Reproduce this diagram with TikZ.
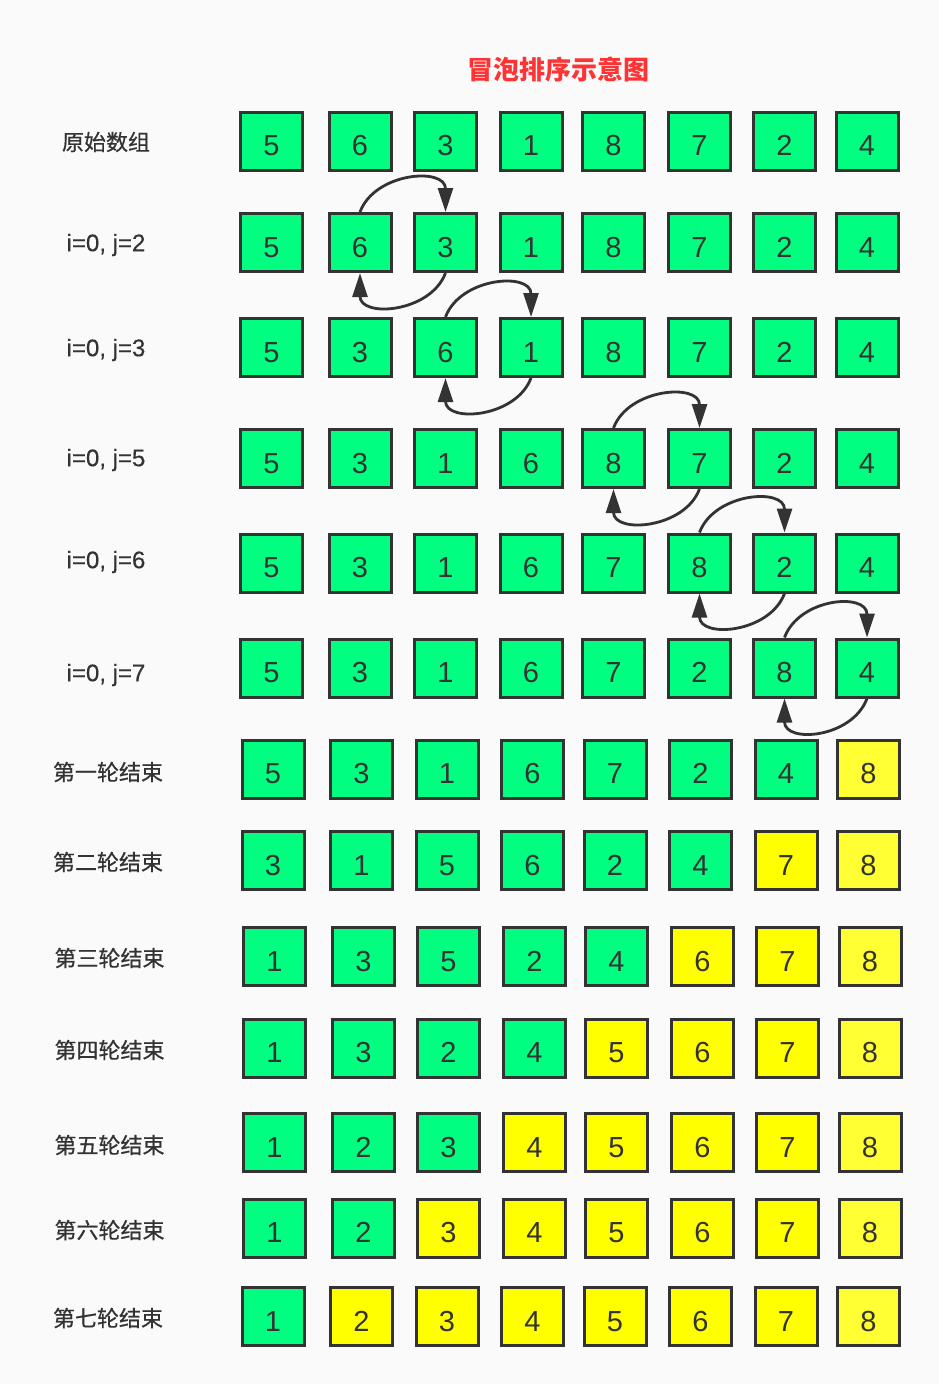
\documentclass[tikz,border=0pt]{standalone}
\usepackage{fontspec}
\setmainfont{Liberation Sans}
\newfontfamily\cjk{Noto Sans CJK SC}
\newfontfamily\cjkm[FakeBold=0.6]{Noto Sans CJK SC}
\newfontfamily\latm[FakeBold=0.4]{Liberation Sans}
\usetikzlibrary{arrows.meta,calc}
\definecolor{bg}{HTML}{FAFAFA}
\definecolor{ink}{HTML}{333333}
\definecolor{gbox}{HTML}{00FF80}
\definecolor{ybox}{HTML}{FFFF00}
\definecolor{ylt}{HTML}{FFFF33}
\definecolor{ttl}{HTML}{FF3333}
\def\xa{{271.5,360,445.5,531,613.5,699.5,784.5,867}}
\def\xb{{273,361.5,447,532.5,615,700.5,786,868.5}}
\def\xc{{274.5,363.5,448.5,534.5,616.5,702.5,787.5,870}}
\begin{document}
\begin{tikzpicture}[x=1pt,y=-1pt,
  cell/.style={draw=ink,line width=3pt,minimum width=62pt,minimum height=58pt,
    inner sep=0pt,text=ink,font=\fontsize{29}{34}\selectfont,text height=29pt,text depth=0pt},
  lbl/.style={text=ink,font=\latm\fontsize{24}{28}\selectfont,inner sep=0pt},
  clbl/.style={text=ink,font=\cjkm\fontsize{22}{26}\selectfont,inner sep=0pt},
  swaparrow/.style={draw=ink,line width=2.8pt,-{Triangle[width=15pt,length=24pt]}}]
\fill[bg] (0,0) rectangle (939,1384);
\useasboundingbox (0,0) rectangle (939,1384);

\node[text=ttl,font=\cjk\bfseries\fontsize{26}{30}\selectfont,inner sep=0pt] (title) at (558,70) {冒泡排序示意图};

\foreach \r/\y/\xs/\vals/\ny in {
  1/141/\xa/{5,6,3,1,8,7,2,4}/0,
  2/242.5/\xa/{5,6,3,1,8,7,2,4}/0,
  3/347.5/\xa/{5,3,6,1,8,7,2,4}/0,
  4/458.5/\xa/{5,3,1,6,8,7,2,4}/0,
  5/563/\xa/{5,3,1,6,7,8,2,4}/0,
  6/668/\xa/{5,3,1,6,7,2,8,4}/0,
  7/769/\xb/{5,3,1,6,7,2,4,8}/1,
  8/860.5/\xb/{3,1,5,6,2,4,7,8}/2,
  9/956.5/\xc/{1,3,5,2,4,6,7,8}/3,
  10/1048/\xc/{1,3,2,4,5,6,7,8}/4,
  11/1142.5/\xc/{1,2,3,4,5,6,7,8}/5,
  12/1228/\xc/{1,2,3,4,5,6,7,8}/6,
  13/1316.5/\xb/{1,2,3,4,5,6,7,8}/7}{
  \foreach \d [count=\c] in \vals {
    \pgfmathsetmacro\xx{\xs[\c-1]}
    \def\fc{gbox}
    \ifnum\c>\numexpr8-\ny\relax
      \ifnum\c=8 \def\fc{ylt}\else\def\fc{ybox}\fi
    \fi
    \node[cell,fill=\fc] (r\r c\c) at (\xx,\y) {\d};
  }
}

\node[clbl] (l1) at (106,142) {原始数组};
\node[lbl] (l2) at (106,245) {i=0, j=2};
\node[lbl] (l3) at (106,350) {i=0, j=3};
\node[lbl] (l4) at (106,460) {i=0, j=5};
\node[lbl] (l5) at (106,562) {i=0, j=6};
\node[lbl] (l6) at (106,675) {i=0, j=7};
\node[clbl] (l7) at (108,772) {第一轮结束};
\node[clbl] (l8) at (108,862) {第二轮结束};
\node[clbl] (l9) at (109.5,958) {第三轮结束};
\node[clbl] (l10) at (109.5,1050) {第四轮结束};
\node[clbl] (l11) at (109.5,1145) {第五轮结束};
\node[clbl] (l12) at (109.5,1230) {第六轮结束};
\node[clbl] (l13) at (108,1318) {第七轮结束};

\foreach \r/\a/\b in {2/2/3,3/3/4,4/5/6,5/6/7,6/7/8}{
  \draw[swaparrow] (r\r c\a.north) .. controls ($(r\r c\a.north)+(15,-40)$) and ($(r\r c\b.north)+(0,-45)$) .. (r\r c\b.north);
  \draw[swaparrow] (r\r c\b.south) .. controls ($(r\r c\b.south)+(-15,40)$) and ($(r\r c\a.south)+(0,45)$) .. (r\r c\a.south);
}
\end{tikzpicture}
\end{document}
